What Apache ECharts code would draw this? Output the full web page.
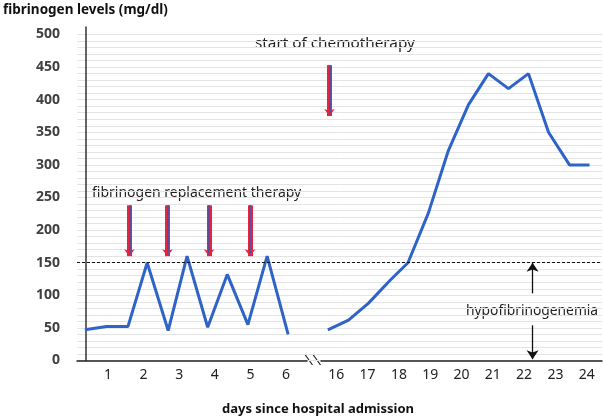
<!DOCTYPE html>
<html>
<head>
<meta charset="utf-8">
<script src="https://cdn.jsdelivr.net/npm/echarts@6/dist/echarts.min.js"></script>
<style>
html,body{margin:0;padding:0;background:#fff;}
#chart{width:603px;height:420px;}
</style>
</head>
<body>
<div id="chart"></div>
<script>
// ---- data ----
var leftDays   = [0.35, 0.96, 1.56, 2.10, 2.69, 3.22, 3.80, 4.35, 4.93, 5.47, 6.06];
var leftValues = [47, 52, 52, 150, 46, 160, 51, 132, 55, 160, 40];
var rightDays   = [15.73, 16.39, 17.03, 17.72, 18.29, 18.94, 19.58, 20.22, 20.86, 21.50, 22.14, 22.78, 23.45, 24.09];
var rightValues = [47, 62, 88, 123, 150, 226, 322, 392, 440, 417, 440, 350, 300, 300];
var leftTickLabels  = [1, 2, 3, 4, 5, 6];
var rightTickLabels = [16, 17, 18, 19, 20, 21, 22, 23, 24];
var yTickLabels = [0, 50, 100, 150, 200, 250, 300, 350, 400, 450, 500];
var threshold = 150;
var replacementDays = [1.60, 2.67, 3.84, 4.99];
var replacementTop = 238, replacementBottom = 160;
var chemoDay = 15.78, chemoTop = 453, chemoBottom = 375;
var hypoDay = 22.27, hypoUpFrom = 103, hypoDownFrom = 54, hypoDownTo = 2;

var FONT = '"Noto Sans"';
var RED = '#E8243C', PURPLE = '#5E4A9E', BLUE = '#2E64C8';

function zip(xs, ys){ return xs.map(function(x,i){ return [x, ys[i]]; }); }

var leftMarks = [];
replacementDays.forEach(function(d){
  leftMarks.push([{coord:[d, replacementTop], symbol:'none'},
                  {coord:[d, replacementBottom], symbol:'arrow', symbolSize:[8,7],
                   lineStyle:{color:RED, width:5, type:'solid'}}]);
});
replacementDays.forEach(function(d){
  leftMarks.push([{coord:[d, replacementTop], symbol:'none'},
                  {coord:[d, replacementBottom+3], symbol:'none',
                   lineStyle:{color:PURPLE, width:2, type:'solid'}}]);
});

var rightMarks = [
  [{coord:[chemoDay, chemoTop], symbol:'none'},
   {coord:[chemoDay, chemoBottom], symbol:'arrow', symbolSize:[8,7], lineStyle:{color:RED, width:5, type:'solid'}}],
  [{coord:[chemoDay, chemoTop], symbol:'none'},
   {coord:[chemoDay, chemoBottom+3], symbol:'none', lineStyle:{color:PURPLE, width:2, type:'solid'}}],
  [{coord:[hypoDay, hypoUpFrom], symbol:'none'},
   {coord:[hypoDay, threshold], symbol:'arrow', symbolSize:[9,9], lineStyle:{color:'#111', width:1.3, type:'solid'}}],
  [{coord:[hypoDay, hypoDownFrom], symbol:'none'},
   {coord:[hypoDay, hypoDownTo], symbol:'arrow', symbolSize:[9,9], lineStyle:{color:'#111', width:1.3, type:'solid'}}]
];

var chart = echarts.init(document.getElementById('chart'), null, {renderer:'canvas'});
var yMaxExt = 511.5;
function txt(text, x, y, weight, size, color){
  return {type:'text', style:{text:text, x:x, y:y, verticalAlign:'middle', align:'left',
          font:(weight||'normal')+' '+size+'px '+FONT, fill:color}};
}
var option = {
  animation:false,
  backgroundColor:'#fff',
  textStyle:{fontFamily:FONT},
  grid:[
    {left:77, right:1, top:34.5, bottom:59.5, containLabel:false, outerBoundsMode:'none'},
    {left:77, right:296, top:27, bottom:59.5, containLabel:false, outerBoundsMode:'none'},
    {left:321, right:1, top:27, bottom:59.5, containLabel:false, outerBoundsMode:'none'}
  ],
  xAxis:[
    {gridIndex:0, type:'value', min:0, max:1, show:false},
    {gridIndex:1, type:'value', min:0.129, max:6.59,
     axisLine:{show:true, onZero:false, lineStyle:{color:'#222', width:1.5}},
     axisTick:{show:false}, splitLine:{show:false},
     axisLabel:{show:true, customValues:leftTickLabels, color:'#222', fontSize:14, fontFamily:FONT, margin:8}},
    {gridIndex:2, type:'value', min:15.511, max:24.489,
     axisLine:{show:true, onZero:false, lineStyle:{color:'#222', width:1.5}},
     axisTick:{show:false}, splitLine:{show:false},
     axisLabel:{show:true, customValues:rightTickLabels, color:'#222', fontSize:14, fontFamily:FONT, margin:8}}
  ],
  yAxis:[
    {gridIndex:0, type:'value', min:0, max:500, interval:50,
     axisLine:{show:false}, axisTick:{show:false}, axisLabel:{show:false},
     splitLine:{show:true, lineStyle:{color:'#e4e4e4', width:1}},
     minorTick:{show:false, splitNumber:5},
     minorSplitLine:{show:true, lineStyle:{color:'#e4e4e4', width:1}}},
    {gridIndex:1, type:'value', min:0, max:yMaxExt, offset:-9,
     axisLine:{show:true, onZero:false, lineStyle:{color:'#333', width:1.5}},
     axisTick:{show:false}, splitLine:{show:false},
     axisLabel:{show:true, customValues:yTickLabels, color:'#404040', fontWeight:'bold', fontSize:14, fontFamily:FONT, margin:26}},
    {gridIndex:2, type:'value', min:0, max:yMaxExt, show:false}
  ],
  series:[
    {type:'line', xAxisIndex:0, yAxisIndex:0, data:[], silent:true,
     markLine:{silent:true, symbol:'none', label:{show:false},
       lineStyle:{color:'#111', width:1, type:[3,2]},
       emphasis:{disabled:true},
       data:[{yAxis:threshold}]}},
    {type:'line', xAxisIndex:1, yAxisIndex:1, data:zip(leftDays,leftValues),
     showSymbol:false, silent:true, lineStyle:{color:BLUE, width:3}, z:3,
     markLine:{silent:true, label:{show:false}, emphasis:{disabled:true}, data:leftMarks}},
    {type:'line', xAxisIndex:2, yAxisIndex:2, data:zip(rightDays,rightValues),
     showSymbol:false, silent:true, lineStyle:{color:BLUE, width:3}, z:3,
     markLine:{silent:true, label:{show:false}, emphasis:{disabled:true}, data:rightMarks}}
  ],
  graphic:[
    txt('fibrinogen levels (mg/dl)', 3, 10, 'bold', 13.5, '#111'),
    txt('days since hospital admission', 222, 409, 'bold', 13, '#111'),
    txt('start of chemotherapy', 255, 44, 'normal', 15.3, '#222'),
    txt('fibrinogen replacement therapy', 92, 193, 'normal', 14, '#222'),
    txt('hypofibrinogenemia', 466, 311, 'normal', 13.8, '#222'),
    {type:'line', shape:{x1:305, y1:354.5, x2:312.5, y2:365}, style:{stroke:'#222', lineWidth:1.2}},
    {type:'line', shape:{x1:313, y1:354.5, x2:320.5, y2:365}, style:{stroke:'#222', lineWidth:1.2}}
  ]
};
chart.setOption(option);
</script>
</body>
</html>
